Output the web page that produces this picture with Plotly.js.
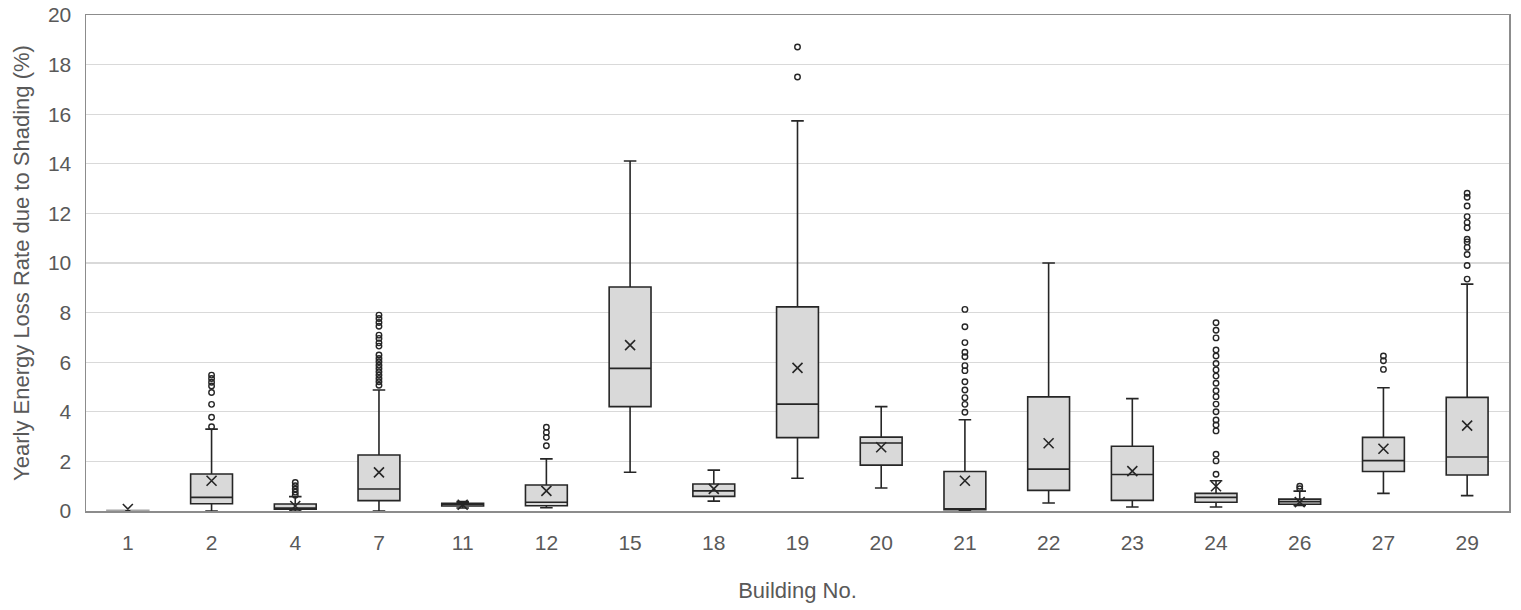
<!DOCTYPE html>
<html>
<head>
<meta charset="utf-8">
<script src="https://cdn.plot.ly/plotly-3.0.1.min.js"></script>
<style>html,body{margin:0;padding:0;background:#fff;}#chart{width:1521px;height:610px;}</style>
</head>
<body>
<div id="chart"></div>
<script>
const buildings = ["1","2","4","7","11","12","15","18","19","20","21","22","23","24","26","27","29"];
const q1Values     = [0,    0.29, 0.07, 0.42, 0.20, 0.21, 4.21, 0.59, 2.96, 1.85, 0.05, 0.83, 0.43, 0.35, 0.27, 1.59, 1.45];
const medianValues = [0.01, 0.55, 0.12, 0.89, 0.27, 0.35, 5.75, 0.81, 4.31, 2.74, 0.07, 1.69, 1.47, 0.55, 0.38, 2.03, 2.18];
const q3Values     = [0.03, 1.49, 0.28, 2.26, 0.31, 1.05, 9.03, 1.09, 8.23, 2.98, 1.59, 4.60, 2.61, 0.71, 0.48, 2.97, 4.58];
const lowerWhisker = [0,    0,    0,    0,    0.12, 0.13, 1.56, 0.40, 1.32, 0.93, 0,    0.32, 0.16, 0.16, 0.22, 0.71, 0.62];
const upperWhisker = [0.03, 3.30, 0.58, 4.88, 0.38, 2.10, 14.11,1.65, 15.73,4.21, 3.68, 10.0, 4.53, 1.22, 0.80, 4.97, 9.15];
const meanValues   = [0.08, 1.22, 0.20, 1.56, 0.25, 0.81, 6.69, 0.89, 5.77, 2.57, 1.22, 2.73, 1.61, 1.00, 0.36, 2.51, 3.44];
const outlierValues = [
  [],
  [3.40, 3.78, 4.30, 4.78, 5.04, 5.19, 5.34, 5.48],
  [0.64, 0.76, 0.89, 1.02, 1.15],
  [5.07, 5.21, 5.34, 5.48, 5.61, 5.75, 5.88, 6.02, 6.15, 6.29, 6.65, 6.78, 6.96, 7.09, 7.45, 7.60, 7.76, 7.90],
  [],
  [2.63, 2.97, 3.17, 3.38],
  [],
  [],
  [17.50, 18.71],
  [],
  [3.98, 4.30, 4.57, 4.88, 5.21, 5.66, 5.86, 6.22, 6.40, 6.79, 7.43, 8.13],
  [],
  [],
  [1.48, 2.02, 2.29, 3.23, 3.47, 3.67, 4.00, 4.31, 4.61, 4.85, 5.15, 5.44, 5.69, 5.95, 6.25, 6.49, 6.98, 7.29, 7.59],
  [0.90, 1.00],
  [5.71, 6.06, 6.25],
  [9.35, 9.90, 10.34, 10.63, 10.85, 10.96, 11.42, 11.63, 11.87, 12.30, 12.65, 12.81]
];

const outX = [], outY = [];
buildings.forEach((b, i) => outlierValues[i].forEach(v => { outX.push(b); outY.push(v); }));

const dark = '#262626';
function boxTrace(idx, lineColor) {
  return {
    type: 'box',
    x: idx.map(i => buildings[i]),
    q1: idx.map(i => q1Values[i]),
    median: idx.map(i => medianValues[i]),
    q3: idx.map(i => q3Values[i]),
    lowerfence: idx.map(i => lowerWhisker[i]),
    upperfence: idx.map(i => upperWhisker[i]),
    boxpoints: false,
    width: 0.5,
    whiskerwidth: 0.3,
    fillcolor: '#d9d9d9',
    line: {color: lineColor, width: 1.6},
    hoverinfo: 'skip',
    showlegend: false
  };
}
const allIdx = buildings.map((_, i) => i);
const traces = [
  boxTrace(allIdx.filter(i => q3Values[i] - q1Values[i] >= 0.05), dark),
  boxTrace(allIdx.filter(i => q3Values[i] - q1Values[i] < 0.05), '#a6a6a6'),
  {
    type: 'scatter', mode: 'markers',
    x: outX, y: outY,
    marker: {symbol: 'circle-open', size: 5.5, color: dark, line: {width: 1.4, color: dark}},
    hoverinfo: 'skip', showlegend: false
  },
  {
    type: 'scatter', mode: 'markers',
    x: buildings, y: meanValues,
    marker: {symbol: 'x-thin-open', size: 10, color: dark, line: {width: 1.6, color: dark}},
    hoverinfo: 'skip', showlegend: false
  }
];

const layout = {
  width: 1521, height: 610,
  margin: {l: 86, r: 12, t: 15, b: 99},
  paper_bgcolor: '#ffffff', plot_bgcolor: '#ffffff',
  font: {family: 'Liberation Sans, Arial, sans-serif', color: '#595959', size: 21},
  showlegend: false,
  xaxis: {
    type: 'category',
    categoryorder: 'array', categoryarray: buildings,
    range: [-0.5, 16.5],
    showgrid: false, zeroline: false,
    showline: true, linecolor: '#8c8c8c', linewidth: 1.5, mirror: true,
    ticks: '', ticklabelstandoff: 12,
    tickfont: {size: 21, color: '#595959'},
    title: {text: 'Building No.', font: {size: 22, color: '#595959'}, standoff: 30}
  },
  yaxis: {
    range: [0, 20], dtick: 2, tick0: 0,
    showgrid: true, gridcolor: '#d9d9d9', gridwidth: 1.3,
    zeroline: false,
    showline: true, linecolor: '#8c8c8c', linewidth: 1.5, mirror: true,
    ticks: '', ticklabelstandoff: 9,
    tickfont: {size: 21, color: '#595959'},
    title: {text: 'Yearly Energy Loss Rate due to Shading (%)', font: {size: 22, color: '#595959'}, standoff: 12}
  }
};

Plotly.newPlot('chart', traces, layout, {staticPlot: true, displayModeBar: false});
</script>
</body>
</html>
